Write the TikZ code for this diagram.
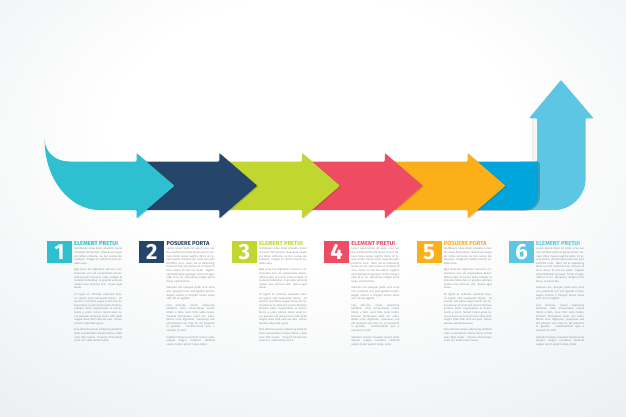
\documentclass[tikz,border=0pt]{standalone}
\usepackage{fontspec}
\setmainfont{Fira Sans}
\usetikzlibrary{fadings}
\definecolor{bgedge}{HTML}{D6DCE0}
\definecolor{stepcyan}{HTML}{2EBFD0}
\definecolor{stepnavy}{HTML}{26456A}
\definecolor{stepgreen}{HTML}{C1D72F}
\definecolor{stepred}{HTML}{EE4C63}
\definecolor{steporange}{HTML}{FBB01A}
\definecolor{stepblue}{HTML}{00A5DB}
\definecolor{stepsky}{HTML}{5CC6E3}
\definecolor{bodygray}{HTML}{8A9096}
\pgfdeclareradialshading{backglow}{\pgfpoint{0bp}{12bp}}{color(0bp)=(white); color(16bp)=(white); color(66bp)=(bgedge)}
\tikzset{nb/.append style={minimum width=25pt, minimum height=22.5pt, inner sep=0pt, text=white, font=\fontsize{22}{22}\selectfont\bfseries}}
\tikzset{hd/.append style={anchor=base west, inner sep=0pt, font=\fontsize{5.8}{6}\selectfont\bfseries}}
\tikzset{tx/.append style={anchor=north west, inner sep=0pt, text width=48pt, align=justify, text=bodygray, font=\fontsize{2.7}{3.6}\selectfont}}
\tikzset{ar/.append style={rounded corners=0.8pt}}
\tikzset{sh/.append style={black, opacity=0.14, rounded corners=0.8pt, xshift=1.2pt, yshift=-0.6pt}}
\newcommand{\pgap}{\par\vspace{3pt}}
\newcommand{\oddcol}{Vestibulum vitae dolor pharetra lorem ut cursus fermentum. Maecenas neque vel tellus vehicula, eu dui cursus leo volutpat. Integer ut nullam mauris sodales ante.\pgap
Eget lacus leo dignissim sed nisi a elementum orci vel suspendisse donec. Ullamcorper et luctus nulla sodales at molestie bibendum in gravida vehicula nullam arcu ultricies sed. Ipsum eget lorem.\pgap
Ut ligula et vehicula euismod mauris sapien sed malesuada donec. Ut montes nisl tellus augue lorem nec felis pulvinar ut amet sed mauris facilisis, pretium dolor suspendisse at donec. Sociis a proin rutrum lorem amet lacus posuere vel turpis lorem nibh pede magna vitae nibh velit vel quis. Donec aenean vulputate quam.\pgap
Cras ultricies ipsum adipiscing eleifend vitae consectetuer massa libero a felis nunc felis turpis. Posuere fermentum amet nec nulla metus lorem.}
\newcommand{\evencol}{Lorem ipsum dolor sit amet, urna nec dui, eleifend vehicula ipsum auctor. Aenean dolor neque sagittis dolor, sit ipsum mollis. Ullamcorper nulla sem quis porttitor nunc. Nunc vel ac adipiscing lectus ut nisl, sed lacinia at. Posuere id arcu, donec et nisl nec dolor. Sagittis sed vestibulum quisque. Tortor at eget, nibh ut ac mi. Nonummy integer proin lacus, euismod leo.\pgap
Vehicula est quisque pede arcu urna orci, praesent orci sed egestas ornare. Augue viverra a fringilla lectus lacus sed. Vel mi sagittis.\pgap
Cras ultricies, ipsum adipiscing eleifend, vitae consectetuer massa libero a felis, nunc felis nulla turpis. Posuere fermentum amet nec nulla. Metus urna dignissim, maecenas sed elit posuere non vitae et, vel praesent in gravida. Condimentum quis a suscipit mi velit.\pgap
Habitant tempor praesent mauris amet aliquet magna curabitur eleifend sapien tortor aptent netus, dolor.}

\begin{document}
\begin{tikzpicture}[x=1pt,y=-1pt]
                % backdrop
                \shade[shading=backglow] (0,0) rectangle (626,417);
                \useasboundingbox (0,0) rectangle (626,417);
                % rising arrow and bend
                \fill[black,opacity=0.07,path fading=east] (532,118.3) rectangle (537,161.5);
                \fill[stepsky,ar] (537,118.3) -- (529,118.3) -- (561,80) -- (593.6,118.3) -- (585.6,118.3) -- (585.6,178) .. controls (585.6,195.7) and (571.3,210) .. (553.6,210) -- (520,210) -- (520,161.5) -- (537,161.5) -- cycle;
                \fill[black,opacity=0.22,xshift=1.8pt,yshift=-0.8pt] (472,161.5) -- (538,161.5) -- (538,196) .. controls (538,203.7) and (531.7,210) .. (524,210) -- (472,210) -- cycle;
                \fill[stepblue] (472,161.5) -- (538,161.5) -- (538,196) .. controls (538,203.7) and (531.7,210) .. (524,210) -- (472,210) -- cycle;
                % band of arrows, right to left
                \fill[sh] (467.5,153) -- (505.5,185.75) -- (467.5,218.5) -- cycle;
                \fill[steporange,ar] (389.5,161.5) -- (467.5,161.5) -- (467.5,153) -- (505.5,185.75) -- (467.5,218.5) -- (467.5,210) -- (389.5,210) -- cycle;
                \fill[sh] (384.75,153) -- (422.75,185.75) -- (384.75,218.5) -- cycle;
                \fill[stepred,ar] (307,161.5) -- (384.75,161.5) -- (384.75,153) -- (422.75,185.75) -- (384.75,218.5) -- (384.75,210) -- (307,210) -- cycle;
                \fill[sh] (302,153) -- (340,185.75) -- (302,218.5) -- cycle;
                \fill[stepgreen,ar] (224,161.5) -- (302,161.5) -- (302,153) -- (340,185.75) -- (302,218.5) -- (302,210) -- (224,210) -- cycle;
                \fill[sh] (219.25,153) -- (257.25,185.75) -- (219.25,218.5) -- cycle;
                \fill[stepnavy,ar] (141.5,161.5) -- (219.25,161.5) -- (219.25,153) -- (257.25,185.75) -- (219.25,218.5) -- (219.25,210) -- (141.5,210) -- cycle;
                \fill[sh] (136.5,153) -- (174.5,185.75) -- (136.5,218.5) -- cycle;
                \fill[stepcyan,ar] (44.7,140) .. controls (45.5,152) and (55,161.5) .. (70,161.5) -- (136.5,161.5) -- (136.5,153) -- (174.5,185.75) -- (136.5,218.5) -- (136.5,210) -- (100,210) .. controls (69.6,210) and (44.7,178.6) .. cycle;
                % steps
                \node[nb,fill=stepcyan] (n1) at (59.5,252) {1};
                \node[nb,fill=stepnavy] (n2) at (151.9,252) {2};
                \node[nb,fill=stepgreen] (n3) at (244.3,252) {3};
                \node[nb,fill=stepred] (n4) at (336.7,252) {4};
                \node[nb,fill=steporange] (n5) at (429.1,252) {5};
                \node[nb,fill=stepsky] (n6) at (521.5,252) {6};
                \node[hd,text=stepcyan] (h1) at (74,245.5) {ELEMENT PRETUI};
                \node[hd,text=stepnavy] (h2) at (166.4,245.5) {POSUERE PORTA};
                \node[hd,text=stepgreen] (h3) at (258.8,245.5) {ELEMENT PRETUI};
                \node[hd,text=stepred] (h4) at (351.2,245.5) {ELEMENT PRETUI};
                \node[hd,text=steporange] (h5) at (443.6,245.5) {POSUERE PORTA};
                \node[hd,text=stepsky] (h6) at (536,245.5) {ELEMENT PRETUI};
                \node[tx] (t1) at (74,247.5) {\oddcol};
                \node[tx] (t2) at (166.4,247.5) {\evencol};
                \node[tx] (t3) at (258.8,247.5) {\oddcol};
                \node[tx] (t4) at (351.2,247.5) {\evencol};
                \node[tx] (t5) at (443.6,247.5) {\oddcol};
                \node[tx] (t6) at (536,247.5) {\evencol};
            \end{tikzpicture}
\end{document}
